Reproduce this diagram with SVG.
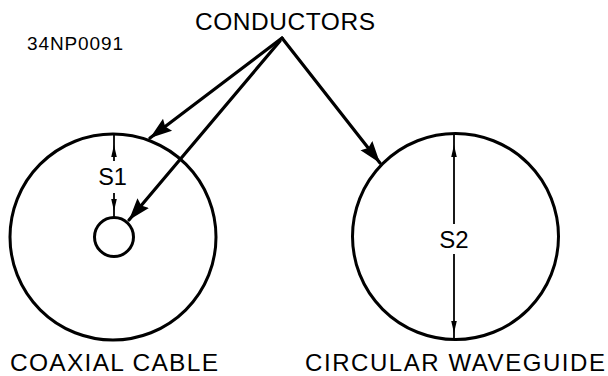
<svg xmlns="http://www.w3.org/2000/svg" width="608" height="376" viewBox="0 0 608 376">
  <style>
    .t { font-family: "Liberation Sans", Arial, sans-serif; fill: #000; }
    .ring { fill: none; stroke: #000; stroke-width: 3; }
    .lead { fill: none; stroke: #000; stroke-width: 3.2; stroke-linecap: round; }
    .dim { fill: none; stroke: #000; stroke-width: 1.8; }
  </style>
  <defs>
    <marker id="ah" markerUnits="userSpaceOnUse" markerWidth="24" markerHeight="18" viewBox="0 0 24 18" refX="22" refY="9" orient="auto">
      <path d="M0,1.5 L22,9 L0,16.5 L3,9 Z" fill="#000"/>
    </marker>
    <path id="sa" d="M0,0 L2.8,12 L-2.8,12 Z" fill="#000"/>
  </defs>
  <rect width="608" height="376" fill="#fff"/>

  <g id="label-conductors">
    <text class="t" x="285" y="30" font-size="24.5" text-anchor="middle" textLength="180">CONDUCTORS</text>
  </g>
  <g id="label-figno">
    <text class="t" x="27" y="50" font-size="19" textLength="96">34NP0091</text>
  </g>

  <g id="coaxial-cable">
    <circle class="ring" cx="113" cy="237" r="103"/>
    <circle class="ring" cx="114" cy="237" r="19.5" stroke-width="2.6"/>
    <line class="dim" x1="114" y1="133" x2="114" y2="161"/>
    <use href="#sa" transform="translate(114,145)"/>
    <text class="t" x="112.5" y="185" font-size="23.5" text-anchor="middle">S1</text>
    <line class="dim" x1="114" y1="193" x2="114" y2="218"/>
    <use href="#sa" transform="translate(114,211) rotate(180)"/>
    <text class="t" x="10" y="371" font-size="24.5" textLength="208">COAXIAL  CABLE</text>
  </g>

  <g id="circular-waveguide">
    <circle class="ring" cx="455.5" cy="236.5" r="103"/>
    <line class="dim" x1="454" y1="133" x2="454" y2="224"/>
    <line class="dim" x1="454" y1="254" x2="454" y2="340"/>
    <use href="#sa" transform="translate(454,145)"/>
    <use href="#sa" transform="translate(454,333) rotate(180)"/>
    <text class="t" x="454" y="248" font-size="24" text-anchor="middle">S2</text>
    <text class="t" x="305" y="371" font-size="24" textLength="300">CIRCULAR  WAVEGUIDE</text>
  </g>

  <g id="connectors">
    <path class="lead" d="M282,38 L150,138" marker-end="url(#ah)"/>
    <path class="lead" d="M280,41 L129,220" marker-end="url(#ah)"/>
    <path class="lead" d="M282,38 L380,163" marker-end="url(#ah)"/>
  </g>
</svg>
